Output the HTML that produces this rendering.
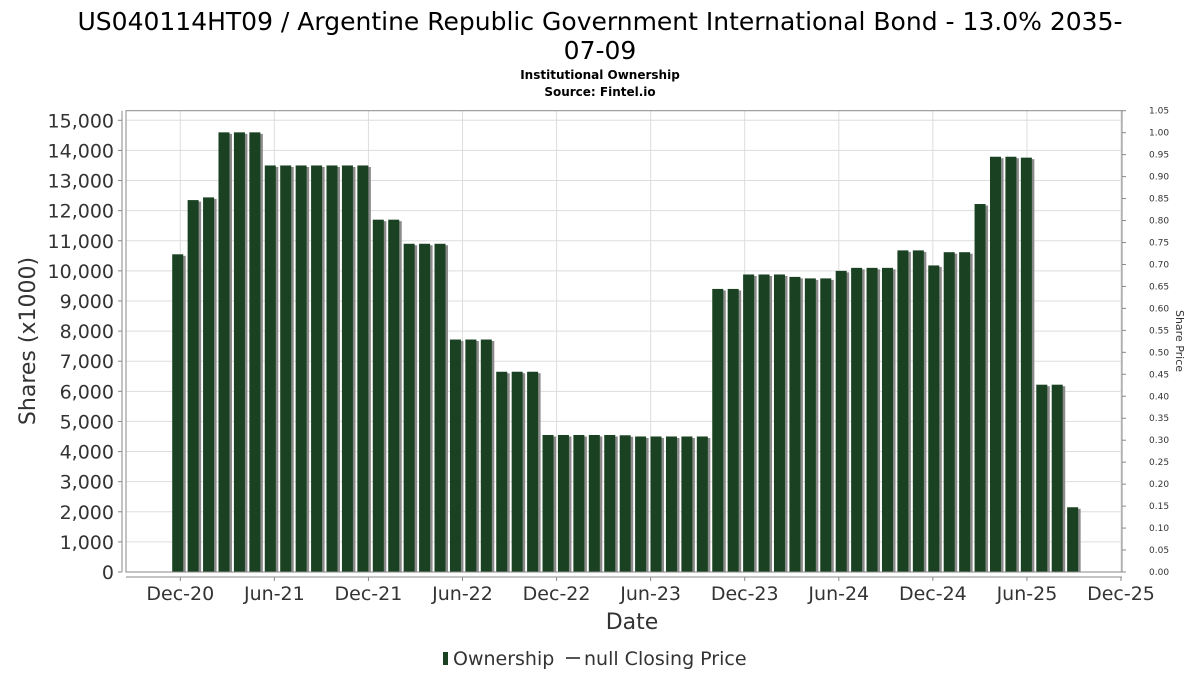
<!DOCTYPE html>
<html><head><meta charset="utf-8"><style>
body{margin:0;background:#fff;font-family:"DejaVu Sans","Liberation Sans",sans-serif}
</style></head><body>
<svg id="chart" width="1200" height="675" viewBox="0 0 1200 675" xmlns="http://www.w3.org/2000/svg" font-family="DejaVu Sans, Liberation Sans, sans-serif">
<text x="600" y="30" font-size="25" text-anchor="middle" fill="#000">US040114HT09 / Argentine Republic Government International Bond - 13.0% 2035-</text>
<text x="600" y="59" font-size="25" text-anchor="middle" fill="#000">07-09</text>
<text x="600" y="79" font-size="12" font-weight="bold" text-anchor="middle">Institutional Ownership</text>
<text x="600" y="96" font-size="12" font-weight="bold" text-anchor="middle">Source: Fintel.io</text>
<g id="grid"></g><g id="bars"></g><g id="axes"></g>
<text transform="translate(35,341) rotate(-90)" font-size="22" text-anchor="middle" fill="#333">Shares (x1000)</text>
<text transform="translate(1176,341) rotate(90)" font-size="11" text-anchor="middle" fill="#333">Share Price</text>
<text x="632" y="629" font-size="22" text-anchor="middle" fill="#333">Date</text>
<g>
<rect x="443" y="652" width="5" height="13" fill="#1a4222"/>
<text x="453" y="665" font-size="19" fill="#333">Ownership</text>
<line x1="566" y1="658" x2="580" y2="658" stroke="#555" stroke-width="2"/>
<text x="584" y="665" font-size="19" fill="#333">null Closing Price</text>
</g>
</svg>
<script>
const values=[10550,12350,12440,14600,14600,14600,13500,13500,13500,13500,13500,13500,13500,11700,11700,10900,10900,10900,7720,7720,7720,6650,6650,6650,4550,4550,4550,4550,4550,4540,4500,4500,4500,4500,4500,9400,9400,9880,9880,9880,9800,9750,9750,10000,10100,10100,10100,10680,10680,10180,10620,10620,12220,13790,13790,13760,6220,6220,2150];
const yTicks=[0,1000,2000,3000,4000,5000,6000,7000,8000,9000,10000,11000,12000,13000,14000,15000];
const xTickLabels=["Dec-20","Jun-21","Dec-21","Jun-22","Dec-22","Jun-23","Dec-23","Jun-24","Dec-24","Jun-25","Dec-25"];
const y2Ticks=[0,0.05,0.10,0.15,0.20,0.25,0.30,0.35,0.40,0.45,0.50,0.55,0.60,0.65,0.70,0.75,0.80,0.85,0.90,0.95,1.00,1.05];
const NS="http://www.w3.org/2000/svg";
const L=126,R=1122,T=110.7,B=572;
const y=v=>B-(v/15000)*(B-120.3);
const y2=v=>B-(v/1.05)*(B-T);
const xBar=i=>177.7+i*15.43;
const xTick=i=>180.3+i*94.07;
function mk(tag,attrs,parent){const e=document.createElementNS(NS,tag);for(const k in attrs)e.setAttribute(k,attrs[k]);parent.appendChild(e);return e;}
const grid=document.getElementById('grid'),bars=document.getElementById('bars'),axes=document.getElementById('axes');
yTicks.forEach(v=>{const l=mk('line',{x1:L,x2:R,y1:y(v),y2:y(v),stroke:'#ddd','stroke-width':1},grid);

mk('line',{x1:118,x2:122,y1:y(v),y2:y(v),stroke:'#888'},axes);
const t=mk('text',{x:114,y:y(v)+7,'font-size':19,'text-anchor':'end',fill:'#333'},axes);t.textContent=v.toLocaleString('en-US');
});
xTickLabels.forEach((s,i)=>{const x=xTick(i);
const l=mk('line',{x1:x,x2:x,y1:T,y2:B,stroke:'#ddd'},grid);
mk('line',{x1:x,x2:x,y1:577,y2:581,stroke:'#888'},axes);
const t=mk('text',{x:x,y:600,'font-size':19,'text-anchor':'middle',fill:'#333'},axes);t.textContent=s;
});
values.forEach((v,i)=>{const x=xBar(i)-5.5;
const s=mk('rect',{x:x+2.5,y:y(v)+1.5,width:11,height:B-y(v)-1.5,fill:'#8a8a8a'},bars);

const r=mk('rect',{x:x,y:y(v),width:11,height:B-y(v),fill:'#1a4222'},bars);
});
const f=mk('rect',{x:L,y:T,width:R-L,height:B-T,fill:'none',stroke:'#888'},axes);
mk('line',{x1:122,x2:122,y1:T,y2:B,stroke:'#888'},axes);
mk('line',{x1:126,x2:1122,y1:577,y2:577,stroke:'#888'},axes);
y2Ticks.forEach(v=>{mk('line',{x1:R,x2:R+4,y1:y2(v),y2:y2(v),stroke:'#888'},axes);
const t=mk('text',{x:1149,y:y2(v)+3,'font-size':9,'text-anchor':'start',fill:'#333'},axes);t.textContent=v.toFixed(2);
});
</script>
</body></html>
